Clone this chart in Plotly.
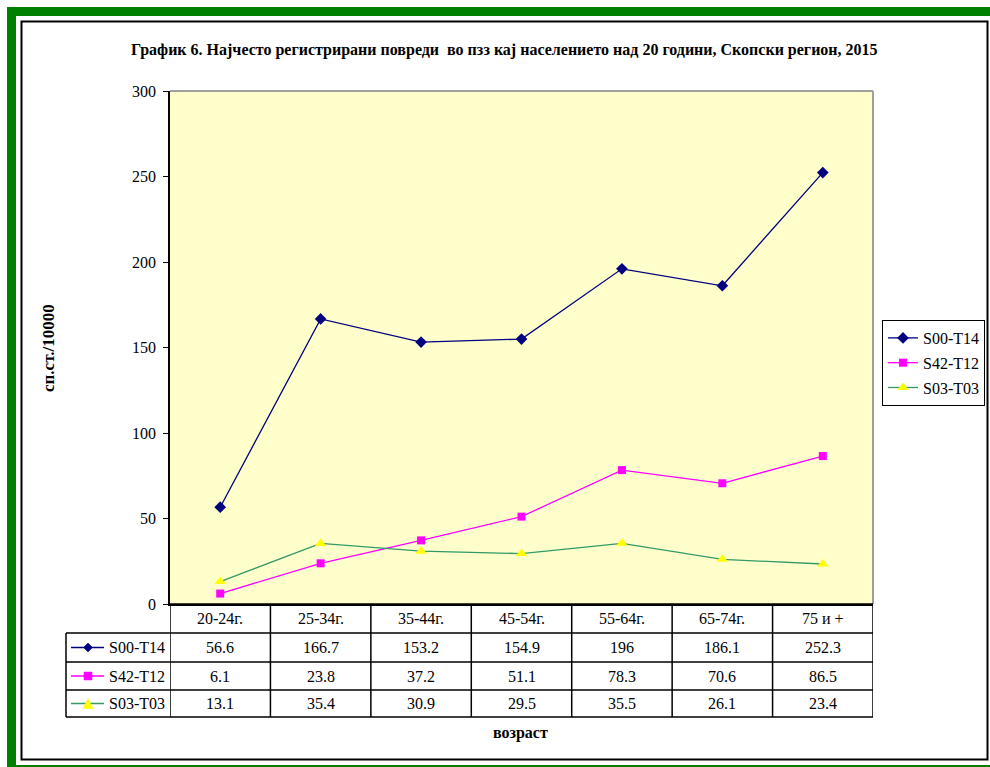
import plotly.graph_objects as go

categories = ["20-24г.", "25-34г.", "35-44г.", "45-54г.", "55-64г.", "65-74г.", "75 и +"]
series_names = ["S00-T14", "S42-T12", "S03-T03"]
s00_t14 = [56.6, 166.7, 153.2, 154.9, 196, 186.1, 252.3]
s42_t12 = [6.1, 23.8, 37.2, 51.1, 78.3, 70.6, 86.5]
s03_t03 = [13.1, 35.4, 30.9, 29.5, 35.5, 26.1, 23.4]
y_ticks = [0, 50, 100, 150, 200, 250, 300]
title_text = "График 6. Најчесто регистрирани повреди \u00a0во пзз кај населението над 20 години, Скопски регион, 2015"
y_title = "сп.ст./10000"
x_title = "возраст"

W, H = 990, 767
FONT = "Liberation Serif, Times New Roman, serif"


def px(x):
    return x / W


def py(y):
    return 1 - y / H


styles = [
    dict(line=dict(color="#000080", width=1.3), marker=dict(symbol="diamond", size=9, color="#000080")),
    dict(line=dict(color="#FF00FF", width=1.3), marker=dict(symbol="square", size=8, color="#FF00FF")),
    dict(line=dict(color="#339966", width=1.3), marker=dict(symbol="triangle-up", size=10, color="#FFFF00")),
]
all_values = [s00_t14, s42_t12, s03_t03]

fig = go.Figure()
for name, vals, st in zip(series_names, all_values, styles):
    fig.add_trace(go.Scatter(x=categories, y=vals, mode="lines+markers", name=name,
                             line=st["line"], marker=st["marker"], cliponaxis=False,
                             legendgroup=name))

PL, PR, PT, PB = 170, 873, 91, 604

shapes = []
annotations = []

# outer green frame and inner black border
shapes.append(dict(type="rect", xref="paper", yref="paper", x0=px(11.5), x1=px(1000), y0=py(11.5), y1=py(769.5),
                   line=dict(color="#008000", width=9), layer="below"))
shapes.append(dict(type="rect", xref="paper", yref="paper", x0=px(21.5), x1=px(987.5), y0=py(21.5), y1=py(759.5),
                   line=dict(color="#000000", width=2), layer="below"))

# plot area grey border (top, right)
shapes.append(dict(type="line", xref="x domain", yref="y domain", x0=0, x1=1, y0=1, y1=1,
                   line=dict(color="#A0A0A0", width=2)))
shapes.append(dict(type="line", xref="x domain", yref="y domain", x0=1, x1=1, y0=0, y1=1,
                   line=dict(color="#A0A0A0", width=2)))

# data table
row_lines = [604, 633, 662, 690, 717]
row_centers = [(row_lines[i] + row_lines[i + 1]) / 2 for i in range(4)]
TL = 66
n = len(categories)
TFS = 16
shapes.append(dict(type="line", xref="x", yref="paper", x0=-0.5, x1=n - 0.5, y0=py(604), y1=py(604),
                   line=dict(color="black", width=1.5)))
for yl in row_lines[1:]:
    shapes.append(dict(type="line", xref="paper", yref="paper", x0=px(TL), x1=px(PR), y0=py(yl), y1=py(yl),
                       line=dict(color="black", width=1.5)))
for i in range(n + 1):
    shapes.append(dict(type="line", xref="x", yref="paper", x0=i - 0.5, x1=i - 0.5, y0=py(604), y1=py(717),
                       line=dict(color="black", width=1.5)))
shapes.append(dict(type="line", xref="paper", yref="paper", x0=px(TL), x1=px(TL), y0=py(633), y1=py(717),
                   line=dict(color="black", width=1.5)))

for c in categories:
    annotations.append(dict(x=c, xref="x", y=py(row_centers[0]), yref="paper", text=c, showarrow=False,
                            font=dict(family=FONT, size=TFS, color="black"), xanchor="center", yanchor="middle"))
for r, (name, vals, st) in enumerate(zip(series_names, all_values, styles)):
    yc = row_centers[r + 1]
    for c, v in zip(categories, vals):
        annotations.append(dict(x=c, xref="x", y=py(yc), yref="paper", text=f"{v:g}", showarrow=False,
                                font=dict(family=FONT, size=TFS, color="black"), xanchor="center", yanchor="middle"))
    annotations.append(dict(x=px(107), xref="paper", y=py(yc), yref="paper", text=name, showarrow=False,
                            font=dict(family=FONT, size=TFS, color="black"), xanchor="left", yanchor="middle"))
    shapes.append(dict(type="line", xref="paper", yref="paper", x0=px(71), x1=px(104), y0=py(yc), y1=py(yc),
                       line=dict(color=st["line"]["color"], width=1.3)))
    cx = 88
    col = st["marker"]["color"]
    if r == 0:
        d = 4.5
        path = f"M {px(cx)} {py(yc - d)} L {px(cx + d)} {py(yc)} L {px(cx)} {py(yc + d)} L {px(cx - d)} {py(yc)} Z"
    elif r == 1:
        d = 4
        path = f"M {px(cx - d)} {py(yc - d)} L {px(cx + d)} {py(yc - d)} L {px(cx + d)} {py(yc + d)} L {px(cx - d)} {py(yc + d)} Z"
    else:
        d = 5
        path = f"M {px(cx)} {py(yc - d)} L {px(cx + d)} {py(yc + d)} L {px(cx - d)} {py(yc + d)} Z"
    shapes.append(dict(type="path", xref="paper", yref="paper", path=path, fillcolor=col,
                       line=dict(color=col, width=0.5)))

annotations.append(dict(x=px(505), y=py(50), xref="paper", yref="paper", text=f"<b>{title_text}</b>",
                        showarrow=False, font=dict(family=FONT, size=16, color="black"),
                        xanchor="center", yanchor="middle"))
annotations.append(dict(x=px(48), y=py(348), xref="paper", yref="paper", text=f"<b>{y_title}</b>",
                        showarrow=False, textangle=-90, font=dict(family=FONT, size=17, color="black"),
                        xanchor="center", yanchor="middle"))
annotations.append(dict(x=px(520), y=py(733), xref="paper", yref="paper", text=f"<b>{x_title}</b>",
                        showarrow=False, font=dict(family=FONT, size=16, color="black"),
                        xanchor="center", yanchor="middle"))

fig.update_layout(
    width=W, height=H, autosize=False,
    margin=dict(l=0, r=0, t=0, b=0, pad=0, autoexpand=False),
    paper_bgcolor="white", plot_bgcolor="#FFFFCC",
    font=dict(family=FONT, size=15, color="black"),
    xaxis=dict(domain=[px(PL), px(PR)], type="category", range=[-0.5, n - 0.5],
               showticklabels=False, ticks="", showgrid=False, zeroline=False,
               showline=True, linecolor="black", linewidth=1.5, fixedrange=True, automargin=False),
    yaxis=dict(domain=[py(PB), py(PT)], range=[0, 300], tickvals=y_ticks, ticks="outside", ticklen=5,
               tickcolor="black", tickwidth=1, showgrid=False, zeroline=False, showline=True,
               linecolor="black", linewidth=1.5, tickfont=dict(family=FONT, size=16, color="black"),
               ticklabelstandoff=4, fixedrange=True, automargin=False),
    showlegend=True,
    legend=dict(x=px(882), y=py(320), xanchor="left", yanchor="top", bgcolor="white",
                bordercolor="black", borderwidth=1, font=dict(family=FONT, size=16, color="black"),
                traceorder="grouped", tracegroupgap=1, itemwidth=30),
    shapes=shapes, annotations=annotations,
)

post = ("document.documentElement.style.margin='0';document.body.style.margin='0';"
        "document.body.style.padding='0';document.body.style.overflow='hidden';"
        "var gd=document.getElementById('{plot_id}');gd.style.margin='0';"
        "Plotly.relayout(gd,{width:990,height:767});")

fig.write_html("out.html", config={"responsive": False, "displayModeBar": False}, post_script=post)
